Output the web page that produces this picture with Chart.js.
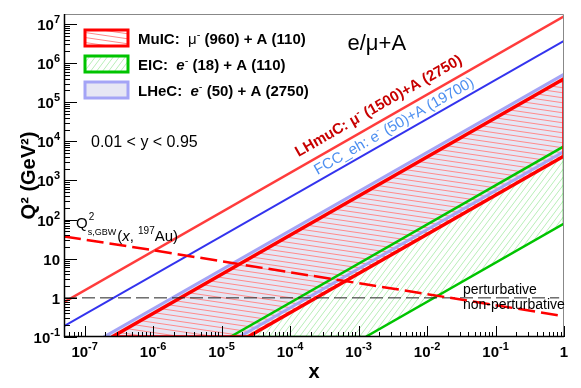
<!DOCTYPE html>
<html>
<head>
<meta charset="utf-8">
<script src="https://cdn.jsdelivr.net/npm/chart.js@4.4.0/dist/chart.umd.min.js"></script>
<style>
  body { margin: 0; background: #fff; }
  canvas { display: block; }
</style>
</head>
<body>
<canvas id="kinChart" width="581" height="388"></canvas>
<script>
const ctx = document.getElementById('kinChart').getContext('2d');

// axis ranges
const xMin = 5e-8, xMax = 1;
const yMin = 0.1, yMax = 1.8e7;

// tick labels, "base^exponent"
const xTickVals = [1e-7, 1e-6, 1e-5, 1e-4, 1e-3, 1e-2, 1e-1, 1];
const xTickLabels = ['10^-7', '10^-6', '10^-5', '10^-4', '10^-3', '10^-2', '10^-1', '1'];
const yTickVals = [0.1, 1, 10, 1e2, 1e3, 1e4, 1e5, 1e6, 1e7];
const yTickLabels = ['10^-1', '1', '10', '10^2', '10^3', '10^4', '10^5', '10^6', '10^7'];

// kinematic regions (0.01 < y < 0.95), corners:
// y=0.95 edge at Q2=0.1, y=0.95 edge at x=1, y=0.01 edge at x=1, y=0.01 edge at Q2=0.1
const muicX  = [2.5e-7, 1, 1, 2.4e-5];
const muicQ2 = [0.1, 4.0e5, 4.2e3, 0.1];
const eicX   = [1.33e-5, 1, 1, 1.26e-3];
const eicQ2  = [0.1, 7.5e3, 79, 0.1];
const lhecX  = [1.9e-7, 1, 1, 1.8e-5];
const lhecQ2 = [0.1, 5.2e5, 5.5e3, 0.1];

// y = 0.95 lines of LHmuC and FCC-eh
const lhmucX  = [5e-8, 1];
const lhmucQ2 = [0.78, 1.57e7];
const fccX  = [5e-8, 1];
const fccQ2 = [0.19, 3.7e6];

// saturation scale Qs^2 (GBW, Au)
const qsX  = [5e-8, 1e-6, 1e-4, 1e-2, 1];
const qsQ2 = [37, 16.5, 4.5, 1.25, 0.34];

// perturbative / non-perturbative boundary
const pertX  = [5e-8, 0.85];
const pertQ2 = [1, 1];

const FONT = 'Liberation Sans, Arial, Helvetica, sans-serif';

function pts(xs, ys) {
    return xs.map((x, i) => ({x: x, y: ys[i]}));
}
function outline(xs, ys) {
    const p = pts(xs, ys);
    p.push(p[0]);
    return p;
}
function upperEdge(xs, ys) {
    return [{x: xs[0], y: ys[0]}, {x: xs[1], y: ys[1]}];
}
function lowerEdge(xs, ys) {
    return [{x: xs[0], y: ys[0]}, {x: xs[3], y: ys[3]}, {x: xs[2], y: ys[2]}];
}

function makePattern(w, h, color, lines) {
    const c = document.createElement('canvas');
    c.width = w;
    c.height = h;
    const g = c.getContext('2d');
    g.strokeStyle = color;
    g.lineWidth = 1;
    g.beginPath();
    lines.forEach(l => { g.moveTo(l[0], l[1]); g.lineTo(l[2], l[3]); });
    g.stroke();
    return ctx.createPattern(c, 'repeat');
}

const redHatch = makePattern(34, 5, '#ff8a8a', [[0, -5, 34, 0], [0, 0, 34, 5], [0, 5, 34, 10]]);
const greenHatch = makePattern(6, 8, '#b8eeb8', [[-6, 8, 0, 0], [0, 8, 6, 0], [6, 8, 12, 0]]);
const lavender = '#e6e6f4';

const muicColor = '#ff0000';
const eicColor = '#00c400';
const lhecColor = '#a4a4f6';

function lineSet(data, color, width, dash) {
    return {
        data: data,
        borderColor: color,
        borderWidth: width,
        borderDash: dash || [],
        pointRadius: 0,
        fill: false,
        tension: 0
    };
}
function fillSet(data, bg, target) {
    return {
        data: data,
        borderColor: 'transparent',
        borderWidth: 0,
        pointRadius: 0,
        backgroundColor: bg,
        fill: target === undefined ? false : target,
        tension: 0
    };
}

// dataset 0 is drawn on top
const datasets = [
    lineSet(pts(qsX, qsQ2), '#ff0000', 2.5, [17, 6]),
    lineSet(pts(pertX, pertQ2), '#222222', 1, [13, 5]),
    lineSet(pts(lhmucX, lhmucQ2), '#ff3c3c', 2.5),
    lineSet(pts(fccX, fccQ2), '#3333ee', 2),
    lineSet(outline(muicX, muicQ2), muicColor, 3.5),
    lineSet(outline(eicX, eicQ2), eicColor, 2.5),
    lineSet(outline(lhecX, lhecQ2), lhecColor, 3),
    fillSet(upperEdge(muicX, muicQ2), redHatch, 8),
    fillSet(lowerEdge(muicX, muicQ2), 'transparent'),
    fillSet(upperEdge(lhecX, lhecQ2), lavender, 10),
    fillSet(lowerEdge(lhecX, lhecQ2), 'transparent'),
    fillSet(upperEdge(eicX, eicQ2), greenHatch, 12),
    fillSet(lowerEdge(eicX, eicQ2), 'transparent')
];

function drawRuns(c, runs, x, y) {
    let cx = x;
    runs.forEach(r => {
        c.font = r[1];
        c.fillText(r[0], cx, y + (r[2] || 0));
        cx += c.measureText(r[0]).width;
    });
}

// "10^-7" -> runs with a raised exponent
const baseFont = 'bold 15px ' + FONT, expFont = 'bold 11px ' + FONT;
function tickRuns(label) {
    const parts = label.split('^');
    const runs = [[parts[0], baseFont]];
    if (parts[1]) runs.push([parts[1], expFont, -7]);
    return runs;
}
function runsWidth(c, runs) {
    let w = 0;
    runs.forEach(r => { c.font = r[1]; w += c.measureText(r[0]).width; });
    return w;
}

const overlay = {
    id: 'overlay',
    afterDraw(chart) {
        const c = chart.ctx;
        const a = chart.chartArea;
        const sx = chart.scales.x, sy = chart.scales.y;
        c.save();

        // inner tick marks
        c.strokeStyle = '#000';
        c.lineWidth = 1;
        c.beginPath();
        for (let d = -8; d <= 0; d++) {
            for (let m = 1; m <= 9; m++) {
                const v = m * Math.pow(10, d);
                if (v < xMin || v > xMax) continue;
                const px = Math.round(sx.getPixelForValue(v)) + 0.5;
                const len = m === 1 ? 11 : 5;
                c.moveTo(px, a.bottom);
                c.lineTo(px, a.bottom - len);
            }
        }
        for (let d = -1; d <= 7; d++) {
            for (let m = 1; m <= 9; m++) {
                const v = m * Math.pow(10, d);
                if (v < yMin || v > yMax) continue;
                const py = Math.round(sy.getPixelForValue(v)) + 0.5;
                const len = m === 1 ? 13 : 6;
                c.moveTo(a.left, py);
                c.lineTo(a.left + len, py);
            }
        }
        c.stroke();

        // frame
        c.strokeStyle = '#888';
        c.beginPath();
        c.moveTo(a.left, a.top + 0.5);
        c.lineTo(a.right - 0.5, a.top + 0.5);
        c.lineTo(a.right - 0.5, a.bottom);
        c.stroke();
        c.strokeStyle = '#000';
        c.lineWidth = 1.5;
        c.beginPath();
        c.moveTo(a.left + 0.5, a.top);
        c.lineTo(a.left + 0.5, a.bottom - 0.5);
        c.lineTo(a.right, a.bottom - 0.5);
        c.stroke();

        // tick labels
        c.fillStyle = '#000';
        c.textBaseline = 'alphabetic';
        xTickVals.forEach((v, i) => {
            const runs = tickRuns(xTickLabels[i]);
            const w = runsWidth(c, runs);
            drawRuns(c, runs, sx.getPixelForValue(v) - w / 2, a.bottom + 20);
        });
        yTickVals.forEach((v, i) => {
            const runs = tickRuns(yTickLabels[i]);
            const w = runsWidth(c, runs);
            drawRuns(c, runs, a.left - 4 - w, sy.getPixelForValue(v) + 6);
        });

        // legend
        const legend = [
            {fill: redHatch, border: muicColor, runs: [
                ['MuIC:  ', 'bold 15px ' + FONT], ['μ', '15px ' + FONT], ['-', '11px ' + FONT, -6],
                [' (960) + A (110)', 'bold 15px ' + FONT]]},
            {fill: greenHatch, border: eicColor, runs: [
                ['EIC:  ', 'bold 15px ' + FONT], ['e', 'italic bold 15px ' + FONT], ['-', '11px ' + FONT, -6],
                [' (18) + A (110)', 'bold 15px ' + FONT]]},
            {fill: lavender, border: lhecColor, runs: [
                ['LHeC:  ', 'bold 15px ' + FONT], ['e', 'italic bold 15px ' + FONT], ['-', '11px ' + FONT, -6],
                [' (50) + A (2750)', 'bold 15px ' + FONT]]}
        ];
        legend.forEach((e, i) => {
            const bx = a.left + 21, by = a.top + 16 + i * 26;
            c.fillStyle = '#fff';
            c.fillRect(bx, by, 43, 16);
            c.fillStyle = e.fill;
            c.fillRect(bx, by, 43, 16);
            c.strokeStyle = e.border;
            c.lineWidth = 3;
            c.strokeRect(bx, by, 43, 16);
            c.fillStyle = '#000';
            drawRuns(c, e.runs, bx + 53, by + 14);
        });

        // plain labels
        c.fillStyle = '#000';
        c.font = '22px ' + FONT;
        c.fillText('e/μ+A', sx.getPixelForValue(6.9e-4), sy.getPixelForValue(2.2e6));
        c.font = '16px ' + FONT;
        c.fillText('0.01 < y < 0.95', sx.getPixelForValue(1.24e-7), sy.getPixelForValue(7.2e3));
        c.font = '14px ' + FONT;
        c.fillText('perturbative', sx.getPixelForValue(0.0334), sy.getPixelForValue(1.24));
        c.fillText('non-perturbative', sx.getPixelForValue(0.0334), sy.getPixelForValue(0.51));

        // saturation label
        const qx = sx.getPixelForValue(7.5e-8), qy = sy.getPixelForValue(60);
        c.font = '15px ' + FONT;
        c.fillText('Q', qx, qy);
        const qw = c.measureText('Q').width;
        c.font = '10px ' + FONT;
        c.fillText('2', qx + qw + 1, qy - 8);
        c.font = '9px ' + FONT;
        c.fillText('s,GBW', qx + qw, qy + 7);
        const sw = c.measureText('s,GBW').width;
        drawRuns(c, [['(', '15px ' + FONT], ['x', 'italic 15px ' + FONT], [', ', '15px ' + FONT],
            ['197', '10px ' + FONT, -7], ['Au)', '15px ' + FONT]], qx + qw + sw + 1, qy + 13);

        // rotated machine labels along their lines
        const ang = Math.atan2(sy.getPixelForValue(lhmucQ2[1]) - sy.getPixelForValue(lhmucQ2[0]),
            sx.getPixelForValue(lhmucX[1]) - sx.getPixelForValue(lhmucX[0]));
        c.save();
        c.translate(sx.getPixelForValue(1.33e-4), sy.getPixelForValue(4000));
        c.rotate(ang);
        c.fillStyle = '#c80000';
        drawRuns(c, [['LHmuC: μ', 'bold 15px ' + FONT], ['-', 'bold 10px ' + FONT, -6],
            [' (1500)+A (2750)', 'bold 15px ' + FONT]], 0, 0);
        c.restore();
        c.save();
        c.translate(sx.getPixelForValue(2.52e-4), sy.getPixelForValue(1380));
        c.rotate(ang);
        c.fillStyle = '#4d8ff0';
        drawRuns(c, [['FCC_eh: e', '15px ' + FONT], ['-', '10px ' + FONT, -6],
            [' (50)+A (19700)', '15px ' + FONT]], 0, 0);
        c.restore();

        c.restore();
    }
};

const myChart = new Chart(ctx, {
    type: 'line',
    data: {datasets: datasets},
    options: {
        responsive: false,
        animation: false,
        layout: {padding: {left: 0, right: 17, top: 14, bottom: 0}},
        plugins: {legend: {display: false}, tooltip: {enabled: false}},
        scales: {
            x: {
                type: 'logarithmic',
                min: xMin,
                max: xMax,
                grid: {display: false, drawTicks: false},
                border: {display: false},
                ticks: {display: false},
                afterBuildTicks: s => { s.ticks = xTickVals.map(v => ({value: v})); },
                afterFit: s => { s.height = 51; },
                title: {display: true, text: 'x', color: '#000',
                    font: {family: FONT, size: 20, weight: 'bold'}, padding: {top: 0, bottom: 4}}
            },
            y: {
                type: 'logarithmic',
                min: yMin,
                max: yMax,
                grid: {display: false, drawTicks: false},
                border: {display: false},
                ticks: {display: false},
                afterBuildTicks: s => { s.ticks = yTickVals.map(v => ({value: v})); },
                afterFit: s => { s.width = 64; },
                title: {display: true, text: 'Q² (GeV²)', color: '#000',
                    font: {family: FONT, size: 20, weight: 'bold'}, padding: {top: 17, bottom: 0}}
            }
        }
    },
    plugins: [overlay]
});
</script>
</body>
</html>
